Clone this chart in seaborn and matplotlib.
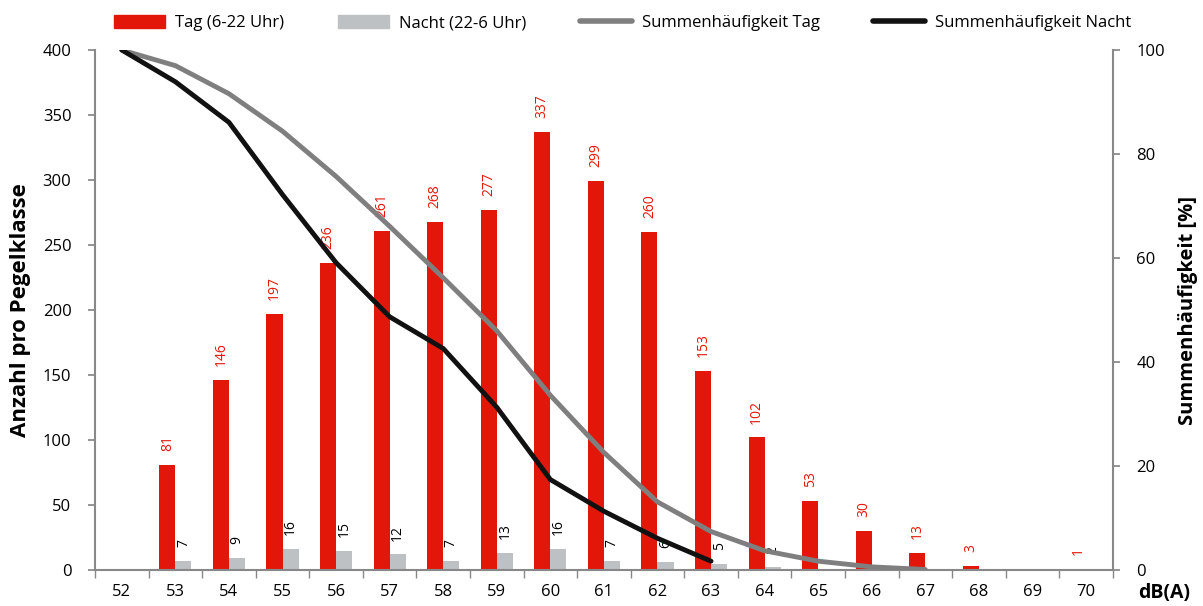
import pandas as pd
import seaborn as sns
import matplotlib.pyplot as plt
from matplotlib.patches import Patch
from matplotlib.lines import Line2D

# Daten
pegel = [52, 53, 54, 55, 56, 57, 58, 59, 60, 61, 62, 63, 64, 65, 66, 67, 68, 69, 70]
tag = [0, 81, 146, 197, 236, 261, 268, 277, 337, 299, 260, 153, 102, 53, 30, 13, 3, 0, 1]
nacht = [0, 7, 9, 16, 15, 12, 7, 13, 16, 7, 6, 5, 2, 0, 0, 0, 0, 0, 0]
summe_tag = [100, 97.0, 91.6, 84.4, 75.7, 66.1, 56.2, 46.0, 33.6, 22.6, 13.1, 7.4, 3.7, 1.7, 0.6, 0.1]
summe_nacht = [100, 93.9, 86.1, 72.2, 59.1, 48.7, 42.6, 31.3, 17.4, 11.3, 6.1, 1.7]

rot = '#e2170a'
grau_balken = '#bdc1c3'
grau_linie = '#7f7f7f'
schwarz = '#111111'

sns.set_theme(style='white')
plt.rcParams['font.family'] = ['Open Sans', 'DejaVu Sans']
plt.rcParams['text.color'] = 'black'
plt.rcParams['axes.labelcolor'] = 'black'
plt.rcParams['xtick.color'] = 'black'
plt.rcParams['ytick.color'] = 'black'

df = pd.DataFrame({
    'pegel': [str(p) for p in pegel] * 2,
    'anzahl': tag + nacht,
    'art': ['Tag (6-22 Uhr)'] * len(tag) + ['Nacht (22-6 Uhr)'] * len(nacht),
})

fig = plt.figure(figsize=(12.03, 6.06), dpi=100)
ax = fig.add_axes([0.079, 0.0594, 0.846, 0.858])

sns.barplot(
    data=df, x='pegel', y='anzahl', hue='art',
    palette=[rot, grau_balken], width=0.6, saturation=1,
    linewidth=0, legend=False, ax=ax
)

# Beschriftung der Balken
for cont, werte, farbe in zip(ax.containers, [tag, nacht], [rot, 'black']):
    ax.bar_label(
        cont, labels=[str(v) if v > 0 else '' for v in werte],
        rotation=90, padding=10, fontsize=10, color=farbe
    )

ax.set_xlim(-0.5, len(pegel) - 0.5)
ax.set_ylim(0, 400)
ax.set_yticks(range(0, 401, 50))
ax.set_xticks(range(len(pegel)))
ax.set_xticklabels([str(p) for p in pegel])
ax.set_xticks([i - 0.5 for i in range(len(pegel) + 1)], minor=True)
ax.tick_params(axis='x', which='major', length=0, labelsize=12, pad=10)
ax.tick_params(axis='x', which='minor', length=6, color='#888888', direction='out', bottom=True)
ax.tick_params(axis='y', length=5, color='#888888', labelsize=12, direction='out', left=True, pad=12)
ax.set_xlabel('')
ax.set_ylabel('Anzahl pro Pegelklasse', fontsize=16, fontweight='bold', labelpad=8)
for s in ['top', 'right']:
    ax.spines[s].set_visible(False)
for s in ['left', 'bottom']:
    ax.spines[s].set_color('#888888')
    ax.spines[s].set_linewidth(1.5)

# Summenhäufigkeit
ax2 = ax.twinx()
sns.lineplot(x=list(range(len(summe_tag))), y=summe_tag, color=grau_linie, linewidth=3.5, ax=ax2)
sns.lineplot(x=list(range(len(summe_nacht))), y=summe_nacht, color=schwarz, linewidth=3.5, ax=ax2)
ax2.set_ylim(0, 100)
ax2.set_yticks(range(0, 101, 20))
ax2.tick_params(axis='y', length=5, color='#888888', labelsize=12, direction='out', right=True, pad=12)
ax2.set_ylabel('Summenhäufigkeit [%]', fontsize=14.5, fontweight='bold', labelpad=9)
for s in ['top', 'left', 'bottom']:
    ax2.spines[s].set_visible(False)
ax2.spines['right'].set_color('#888888')
ax2.spines['right'].set_linewidth(1.5)

fig.text(0.968, 0.022, 'dB(A)', fontsize=14, fontweight='bold', ha='center', va='center')

# Legende
handles = [
    Patch(color=rot, label='Tag (6-22 Uhr)'),
    Patch(color=grau_balken, label='Nacht (22-6 Uhr)'),
    Line2D([], [], color=grau_linie, linewidth=4, solid_capstyle='round', label='Summenhäufigkeit Tag'),
    Line2D([], [], color=schwarz, linewidth=4, solid_capstyle='round', label='Summenhäufigkeit Nacht'),
]
fig.legend(
    handles=handles, loc='upper left', bbox_to_anchor=(0.082, 1.0), ncol=4,
    frameon=False, fontsize=12, handlelength=3.1, handleheight=0.8,
    columnspacing=3.2, handletextpad=0.6
)

plt.savefig('out.png', dpi=100)
